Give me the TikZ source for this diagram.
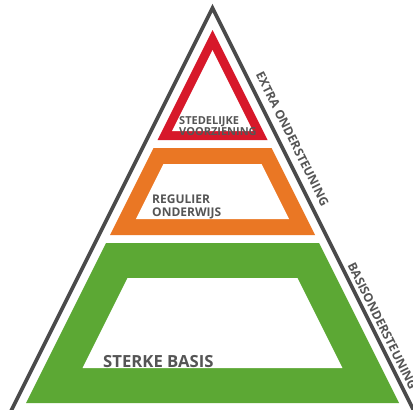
\documentclass[tikz,border=0pt]{standalone}
\usepackage{fontspec}
\setmainfont{Open Sans}
\definecolor{pyrgray}{RGB}{74,74,74}
\definecolor{txtgray}{RGB}{85,85,85}
\definecolor{pyrred}{RGB}{215,24,42}
\definecolor{pyrorange}{RGB}{234,119,36}
\definecolor{pyrgreen}{RGB}{92,168,52}
\tikzset{
  outline/.style={draw=pyrgray, line width=3.6pt, line join=miter},
  lbl/.style={text=txtgray, inner sep=0pt, font=\bfseries},
  sidelbl/.style={lbl, rotate=-63.43, anchor=center},
}
\begin{document}
\begin{tikzpicture}[x=1pt,y=-1pt]
\fill[white] (0,0) rectangle (413,410);
\useasboundingbox (0,0) rectangle (413,410);
\clip (0,0) rectangle (413,410);
% outer outline
\coordinate (apex) at (212.5,8);
\coordinate (bl) at (10.5,412);
\coordinate (br) at (414.5,412);
\draw[outline] (bl) -- (apex) -- (br);
% red triangle
\fill[pyrred] (212.5,30) -- (267.5,140) -- (157.5,140) -- cycle;
\fill[white] (212.5,50.1) -- (252.9,131) -- (172.1,131) -- cycle;
% orange trapezoid
\fill[pyrorange] (153.5,148) -- (271.5,148) -- (315,235) -- (110,235) -- cycle;
\fill[white] (163.4,164) -- (261.6,164) -- (289.1,219) -- (135.9,219) -- cycle;
% green trapezoid
\fill[pyrgreen] (106,243) -- (319,243) -- (399,403) -- (26,403) -- cycle;
\fill[white] (127.6,278) -- (297.4,278) -- (342.4,368) -- (82.6,368) -- cycle;
% labels
\node[lbl, anchor=north west, align=left, font=\bfseries\fontsize{11}{9.6}\selectfont] (sv) at (179,116.5) {STEDELIJKE\\VOORZIENING};
\node[lbl, anchor=north west, align=left, font=\bfseries\fontsize{12}{13}\selectfont] (ro) at (152,195) {REGULIER\\ONDERWIJS};
\node[lbl, anchor=north west, font=\bfseries\fontsize{16.7}{18}\selectfont] (sb) at (103,355) {STERKE BASIS};
\node[sidelbl, font=\bfseries\fontsize{12.2}{14}\selectfont] (eo) at (292.5,139) {EXTRA ONDERSTEUNING};
\node[sidelbl, font=\bfseries\fontsize{12.2}{14}\selectfont] (bo) at (382.5,326) {BASISONDERSTEUNING};
\end{tikzpicture}
\end{document}
